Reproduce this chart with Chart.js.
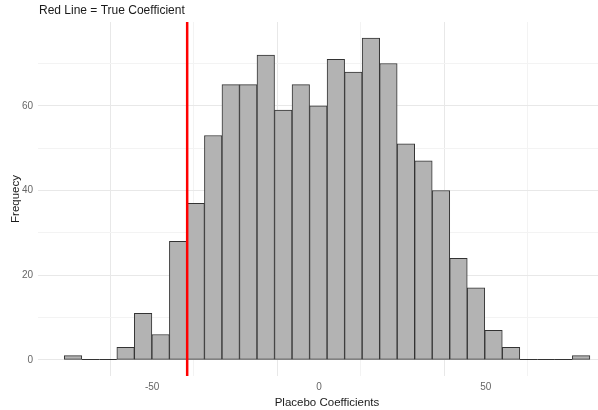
<!DOCTYPE html>
<html>
<head>
<meta charset="utf-8">
<script src="https://cdn.jsdelivr.net/npm/chart.js@4/dist/chart.umd.min.js"></script>
<style>
  html, body { margin: 0; padding: 0; background: #fff; overflow: hidden; }
  #wrap { width: 598px; height: 410px; overflow: hidden; }
  #box { width: 620px; height: 410px; }
</style>
</head>
<body>
<div id="wrap"><div id="box"><canvas id="hist"></canvas></div></div>
<script>
// histogram bins (centers) and counts
const binCenters = [-73.7, -68.45, -63.2, -57.95, -52.7, -47.45, -42.2, -36.95, -31.7, -26.45,
  -21.2, -15.95, -10.7, -5.45, -0.2, 5.05, 10.3, 15.55, 20.8, 26.05,
  31.3, 36.55, 41.8, 47.05, 52.3, 57.55, 62.8, 68.05, 73.3, 78.55];
const counts = [1, 0, 0, 3, 11, 6, 28, 37, 53, 65,
  65, 72, 59, 65, 60, 71, 68, 76, 70, 51,
  47, 40, 24, 17, 7, 3, 0, 0, 0, 1];
const trueCoef = -39.5;
const xLabelTicks = [-50, 0, 50];
const yLabelTicks = [0, 20, 40, 60];

const FONT = '"Liberation Sans", Arial, sans-serif';

// empty bins still get an outline along the baseline, like geom_histogram
const emptyBins = {
  id: 'emptyBins',
  afterDatasetsDraw(chart) {
    const { ctx } = chart;
    const meta = chart.getDatasetMeta(0);
    ctx.save();
    ctx.strokeStyle = '#333333';
    ctx.lineWidth = 1;
    meta.data.forEach((bar, i) => {
      if (counts[i] !== 0) return;
      const p = bar.getProps(['x', 'base', 'width'], true);
      const y = Math.round(p.base) - 0.5;
      ctx.beginPath();
      ctx.moveTo(p.x - p.width / 2, y);
      ctx.lineTo(p.x + p.width / 2, y);
      ctx.stroke();
    });
    ctx.restore();
  }
};

const redLine = {
  id: 'redLine',
  afterDatasetsDraw(chart) {
    const { ctx, chartArea, scales } = chart;
    const x = scales.x.getPixelForValue(trueCoef);
    ctx.save();
    ctx.strokeStyle = '#ff0000';
    ctx.lineWidth = 2.5;
    ctx.beginPath();
    ctx.moveTo(x, chartArea.top);
    ctx.lineTo(x, chartArea.bottom);
    ctx.stroke();
    ctx.restore();
  }
};

const topTitle = {
  id: 'topTitle',
  afterDraw(chart) {
    const { ctx, chartArea } = chart;
    ctx.save();
    ctx.fillStyle = '#1a1a1a';
    ctx.font = '12px ' + FONT;
    ctx.textBaseline = 'alphabetic';
    ctx.fillText('Red Line = True Coefficient', chartArea.left + 1, 14);
    ctx.restore();
  }
};

new Chart(document.getElementById('hist'), {
  type: 'bar',
  data: {
    datasets: [{
      data: binCenters.map((x, i) => ({ x: x, y: counts[i] })),
      backgroundColor: '#b3b3b3',
      borderColor: '#333333',
      borderWidth: 1,
      borderSkipped: false,
      barPercentage: 1,
      categoryPercentage: 1
    }]
  },
  options: {
    responsive: true,
    maintainAspectRatio: false,
    animation: false,
    layout: { padding: { top: 22, right: 4, left: 0, bottom: 0 } },
    plugins: { legend: { display: false }, tooltip: { enabled: false } },
    scales: {
      x: {
        type: 'linear',
        offset: false,
        min: -84.2,
        max: 89.0,
        afterFit(s) { s.height = 34; },
        border: { display: false },
        grid: {
          drawTicks: false,
          color: (c) => (c.tick && xLabelTicks.includes(c.tick.value) ? '#e8e8e8' : '#f3f3f3'),
          lineWidth: 1
        },
        ticks: {
          stepSize: 25,
          includeBounds: false,
          autoSkip: false,
          maxRotation: 0,
          padding: 5,
          color: '#666666',
          font: { family: FONT, size: 10 },
          callback: (v) => (xLabelTicks.includes(v) ? String(v) : '')
        },
        title: {
          display: true,
          text: 'Placebo Coefficients',
          color: '#1a1a1a',
          font: { family: FONT, size: 11.5 },
          padding: { top: 2, bottom: 0 }
        }
      },
      y: {
        min: -3.8,
        max: 79.8,
        afterFit(s) { s.width = 38; },
        border: { display: false },
        grid: {
          drawTicks: false,
          color: (c) => (c.tick && yLabelTicks.includes(c.tick.value) ? '#e8e8e8' : '#f3f3f3'),
          lineWidth: 1
        },
        ticks: {
          stepSize: 10,
          includeBounds: false,
          autoSkip: false,
          padding: 5,
          color: '#666666',
          font: { family: FONT, size: 10 },
          callback: (v) => (yLabelTicks.includes(v) ? String(v) : '')
        },
        title: {
          display: true,
          text: 'Frequecy',
          color: '#1a1a1a',
          font: { family: FONT, size: 11.5 },
          padding: { top: 9, bottom: 0 }
        }
      }
    }
  },
  plugins: [emptyBins, redLine, topTitle]
});
</script>
</body>
</html>
